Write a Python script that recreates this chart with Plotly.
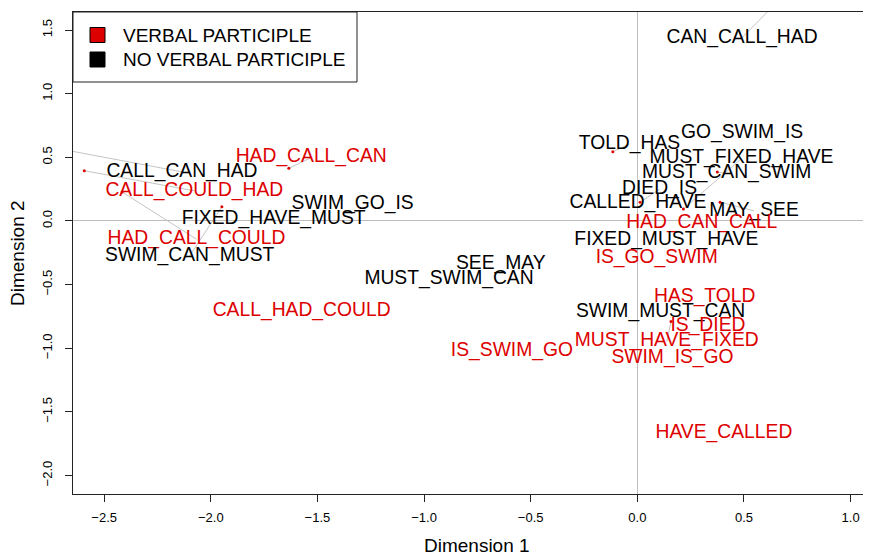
import plotly.graph_objects as go

words = ["CAN_CALL_HAD", "GO_SWIM_IS", "TOLD_HAS", "MUST_FIXED_HAVE", "MUST_CAN_SWIM",
         "DIED_IS", "CALLED_HAVE", "MAY_SEE", "HAD_CAN_CALL", "FIXED_MUST_HAVE",
         "IS_GO_SWIM", "SEE_MAY", "MUST_SWIM_CAN", "HAS_TOLD", "SWIM_MUST_CAN",
         "IS_DIED", "MUST_HAVE_FIXED", "SWIM_IS_GO", "IS_SWIM_GO", "HAVE_CALLED",
         "CALL_HAD_COULD", "HAD_CALL_CAN", "CALL_CAN_HAD", "CALL_COULD_HAD",
         "FIXED_HAVE_MUST", "SWIM_GO_IS", "HAD_CALL_COULD", "SWIM_CAN_MUST"]
verbal = [0, 0, 0, 0, 0, 0, 0, 0, 1, 0,
          1, 0, 0, 1, 0, 1, 1, 1, 1, 1,
          1, 1, 0, 1, 0, 0, 1, 0]
# label positions (after de-overlapping)
label_x = [0.491, 0.491, -0.037, 0.488, 0.419, 0.104, 0.003, 0.547, 0.302, 0.136,
           0.091, -0.640, -0.883, 0.316, 0.109, 0.331, 0.138, 0.165, -0.588, 0.406,
           -1.574, -1.529, -2.135, -2.077, -1.705, -1.335, -2.067, -2.099]
label_y = [1.440, 0.690, 0.605, 0.490, 0.372, 0.250, 0.140, 0.080, -0.020, -0.150,
           -0.295, -0.340, -0.458, -0.602, -0.720, -0.825, -0.948, -1.078, -1.020, -1.667,
           -0.706, 0.498, 0.386, 0.237, 0.014, 0.132, -0.143, -0.274]
# original coordinates of each word
point_x = [0.762, 0.491, -0.115, 0.216, 0.375, 0.013, 0.003, 0.388, 0.302, 0.136,
           0.091, -0.640, -0.883, 0.316, 0.109, 0.331, 0.158, 0.165, -0.588, 0.406,
           -1.574, -1.634, -2.800, -2.593, -1.705, -1.335, -2.416, -1.948]
point_y = [1.901, 0.690, 0.544, 0.094, 0.385, 0.147, 0.140, 0.147, -0.020, -0.150,
           -0.295, -0.340, -0.458, -0.602, -0.720, -0.825, -0.789, -1.078, -1.020, -1.667,
           -0.706, 0.414, 0.595, 0.395, 0.014, 0.132, 0.228, 0.112]

group_names = ["NO VERBAL PARTICIPLE", "VERBAL PARTICIPLE"]
group_colors = ["#000000", "#DD0000"]
x_ticks = [-2.5, -2.0, -1.5, -1.0, -0.5, 0.0, 0.5, 1.0]
y_ticks = [-2.0, -1.5, -1.0, -0.5, 0.0, 0.5, 1.0, 1.5]

FONT = "Liberation Sans, Arial, Helvetica, sans-serif"
# the page body adds an 8px offset, so the figure is laid out 8px smaller
OFF = 8
W, H = 871 - OFF, 554 - OFF
L, R, T, B = 73 - OFF, 0, 12 - OFF, 60
PW, PH = W - L - R, H - T - B


def px2paper(px, py):
    fx, fy = px - OFF, py - OFF
    return (fx - L) / PW, (H - B - fy) / PH


# connector lines and dots only for displaced words
moved = [abs(px - tx) + abs(py - ty) > 1e-6
         for px, py, tx, ty in zip(point_x, point_y, label_x, label_y)]
lx, ly, dx, dy = [], [], [], []
for m, px, py, tx, ty in zip(moved, point_x, point_y, label_x, label_y):
    if m:
        lx += [px, tx, None]
        ly += [py, ty, None]
        dx.append(px)
        dy.append(py)

fig = go.Figure()
fig.add_trace(go.Scatter(x=lx, y=ly, mode="lines",
                         line=dict(color="#c4c4c4", width=1),
                         hoverinfo="skip", showlegend=False))
fig.add_trace(go.Scatter(x=dx, y=dy, mode="markers",
                         marker=dict(color="#DD0000", size=3),
                         hoverinfo="skip", showlegend=False))
fig.add_trace(go.Scatter(x=label_x, y=label_y, mode="text", text=words,
                         textposition="middle center",
                         textfont=dict(family=FONT, size=19.3,
                                       color=[group_colors[v] for v in verbal]),
                         showlegend=False))

# legend box drawn in the top-left corner
shapes = []
x0, y0 = px2paper(73, 82)
x1, y1 = px2paper(357, 12)
shapes.append(dict(type="rect", xref="paper", yref="paper", x0=x0, y0=y0, x1=x1, y1=y1,
                   line=dict(color="#222222", width=1), fillcolor="white", layer="above"))
annotations = []
for i, g in enumerate([1, 0]):
    cy = 35 + 24.5 * i
    sx0, sy0 = px2paper(90, cy + 7.5)
    sx1, sy1 = px2paper(105, cy - 7.5)
    shapes.append(dict(type="rect", xref="paper", yref="paper", x0=sx0, y0=sy0, x1=sx1, y1=sy1,
                       line=dict(color="#000000", width=1), fillcolor=group_colors[g],
                       layer="above"))
    tx, ty = px2paper(121, cy)
    annotations.append(dict(text=group_names[g], xref="paper", yref="paper", x=tx, y=ty,
                            xanchor="left", yanchor="middle", showarrow=False,
                            font=dict(family=FONT, size=19, color="#000000")))

# axis titles
ax, ay = px2paper(477, 545)
annotations.append(dict(text="Dimension 1", xref="paper", yref="paper", x=ax, y=ay,
                        xanchor="center", yanchor="middle", showarrow=False,
                        font=dict(family=FONT, size=19, color="#000000")))
ax, ay = px2paper(17, 253)
annotations.append(dict(text="Dimension 2", xref="paper", yref="paper", x=ax, y=ay,
                        xanchor="center", yanchor="middle", showarrow=False, textangle=-90,
                        font=dict(family=FONT, size=19, color="#000000")))

fig.update_layout(
    width=W, height=H,
    margin=dict(l=L, r=R, t=T, b=B),
    paper_bgcolor="white", plot_bgcolor="white",
    font=dict(family=FONT, color="#000000"),
    showlegend=False,
    shapes=shapes, annotations=annotations,
)
fig.update_xaxes(range=[-2.646, 1.0956], tickvals=x_ticks, tickformat=".1f",
                 automargin=False,
                 showgrid=False, zeroline=True, zerolinecolor="#bdbdbd", zerolinewidth=1,
                 showline=True, linecolor="#222222", linewidth=1, mirror=True,
                 ticks="outside", ticklen=7, tickcolor="#222222",
                 tickfont=dict(family=FONT, size=13), ticklabelstandoff=4)
fig.update_yaxes(range=[-2.145, 1.642], tickvals=y_ticks, tickformat=".1f",
                 automargin=False,
                 showgrid=False, zeroline=True, zerolinecolor="#bdbdbd", zerolinewidth=1,
                 showline=True, linecolor="#222222", linewidth=1, mirror=False,
                 ticks="outside", ticklen=7, tickcolor="#222222", tickangle=-90,
                 tickfont=dict(family=FONT, size=13), ticklabelstandoff=8)

fig.write_html("out.html")
